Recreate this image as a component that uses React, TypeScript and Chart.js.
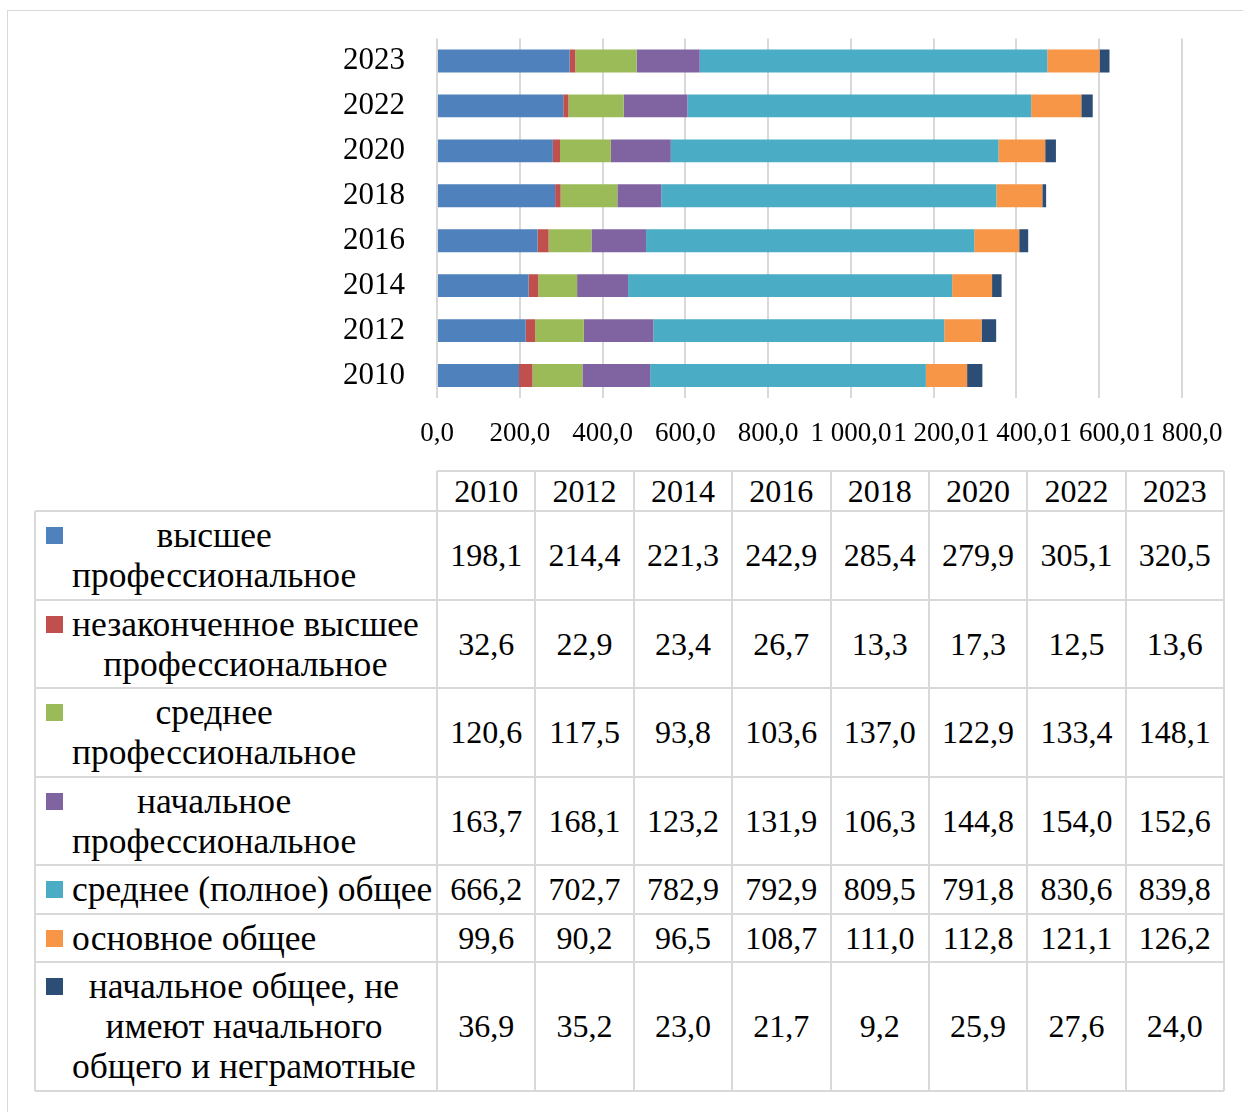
import React, { useEffect, useRef } from 'react';
import { Chart, registerables } from 'chart.js';

Chart.register(...registerables);

const years = ['2010', '2012', '2014', '2016', '2018', '2020', '2022', '2023'];

const higherProf = [198.1, 214.4, 221.3, 242.9, 285.4, 279.9, 305.1, 320.5];
const incompleteHigherProf = [32.6, 22.9, 23.4, 26.7, 13.3, 17.3, 12.5, 13.6];
const secondaryProf = [120.6, 117.5, 93.8, 103.6, 137.0, 122.9, 133.4, 148.1];
const primaryProf = [163.7, 168.1, 123.2, 131.9, 106.3, 144.8, 154.0, 152.6];
const secondaryGeneral = [666.2, 702.7, 782.9, 792.9, 809.5, 791.8, 830.6, 839.8];
const basicGeneral = [99.6, 90.2, 96.5, 108.7, 111.0, 112.8, 121.1, 126.2];
const primaryGeneral = [36.9, 35.2, 23.0, 21.7, 9.2, 25.9, 27.6, 24.0];

const seriesNames = [
  'высшее профессиональное',
  'незаконченное высшее профессиональное',
  'среднее профессиональное',
  'начальное профессиональное',
  'среднее (полное) общее',
  'основное общее',
  'начальное общее, не имеют начального общего и неграмотные',
];

const seriesLines = [
  ['высшее', 'профессиональное'],
  ['незаконченное высшее', 'профессиональное'],
  ['среднее', 'профессиональное'],
  ['начальное', 'профессиональное'],
  ['среднее (полное) общее'],
  ['основное общее'],
  ['начальное общее, не', 'имеют начального', 'общего и неграмотные'],
];

const seriesValues = [
  higherProf,
  incompleteHigherProf,
  secondaryProf,
  primaryProf,
  secondaryGeneral,
  basicGeneral,
  primaryGeneral,
];

const seriesColors = ['#4F81BD', '#C0504D', '#9BBB59', '#8064A2', '#4BACC6', '#F79646', '#2C4D75'];

const xMin = 0;
const xMax = 1800;
const xStep = 200;

const FONT = '"Liberation Serif", "Times New Roman", serif';
const LINE = '#d9d9d9';

function fmt(v: number): string {
  const [intPart, dec] = v.toFixed(1).split('.');
  const withSpaces = intPart.replace(/\B(?=(\d{3})+(?!\d))/g, ' ');
  return withSpaces + ',' + dec;
}

// table geometry
const TABLE_LEFT = 35;
const COL0_RIGHT = 437;
const TABLE_RIGHT = 1224;
const HEADER_TOP = 471;
const HEADER_H = 40;
const LINE_H = 40;
const ROW_PAD = 8.5;

export default function App() {
  const ref = useRef<HTMLCanvasElement>(null);

  useEffect(() => {
    const chart = new Chart(ref.current!, {
      type: 'bar',
      data: {
        labels: years,
        datasets: seriesNames.map((name, i) => ({
          label: name,
          data: seriesValues[i],
          backgroundColor: seriesColors[i],
          borderWidth: 0,
          barPercentage: 0.51,
          categoryPercentage: 1,
        })),
      },
      options: {
        indexAxis: 'y',
        responsive: false,
        animation: false,
        layout: { padding: { top: 38.5, right: 61, left: 343, bottom: 0 } },
        plugins: { legend: { display: false }, tooltip: { enabled: false } },
        scales: {
          x: {
            stacked: true,
            min: xMin,
            max: xMax,
            ticks: {
              stepSize: xStep,
              autoSkip: false,
              maxRotation: 0,
              padding: 20,
              color: '#000',
              font: { family: FONT, size: 27 },
              callback: (v: any) => fmt(Number(v)),
            },
            grid: { color: LINE, lineWidth: 2, drawTicks: false },
            border: { display: false },
            afterFit: (s: any) => {
              s.height = 62;
            },
          },
          y: {
            stacked: true,
            reverse: true,
            ticks: {
              padding: 0,
              crossAlign: 'far',
              color: '#000',
              font: { family: FONT, size: 31 },
            },
            grid: { display: false, drawTicks: false },
            border: { display: false },
            afterFit: (s: any) => {
              s.width = 94;
            },
          },
        },
      },
    });
    return () => chart.destroy();
  }, []);

  const colW = (TABLE_RIGHT - COL0_RIGHT) / years.length;
  const rowTops: number[] = [];
  const rowHeights: number[] = [];
  let y = HEADER_TOP + HEADER_H;
  seriesLines.forEach((lines) => {
    const h = lines.length * LINE_H + ROW_PAD;
    rowTops.push(y);
    rowHeights.push(h);
    y += h;
  });
  const tableBottom = y;

  const hLines: React.ReactNode[] = [];
  hLines.push(
    <div key="ht" style={{ position: 'absolute', left: COL0_RIGHT, top: HEADER_TOP - 1, width: TABLE_RIGHT - COL0_RIGHT, height: 2, background: LINE }} />
  );
  [...rowTops, tableBottom].forEach((t, i) => {
    hLines.push(
      <div key={'h' + i} style={{ position: 'absolute', left: TABLE_LEFT, top: t - 1, width: TABLE_RIGHT - TABLE_LEFT, height: 2, background: LINE }} />
    );
  });
  const vLines: React.ReactNode[] = [];
  vLines.push(
    <div key="v0" style={{ position: 'absolute', left: TABLE_LEFT - 1, top: HEADER_TOP + HEADER_H, width: 2, height: tableBottom - HEADER_TOP - HEADER_H, background: LINE }} />
  );
  for (let c = 0; c <= years.length; c++) {
    vLines.push(
      <div key={'v' + (c + 1)} style={{ position: 'absolute', left: COL0_RIGHT + c * colW - 1, top: HEADER_TOP, width: 2, height: tableBottom - HEADER_TOP, background: LINE }} />
    );
  }

  const textStyle: React.CSSProperties = {
    position: 'absolute',
    fontFamily: FONT,
    fontSize: 32,
    color: '#000',
    lineHeight: LINE_H + 'px',
    whiteSpace: 'nowrap',
  };

  return (
    <div style={{ position: 'absolute', left: 0, top: 0, width: 1243, height: 1112, overflow: 'hidden', background: '#fff' }}>
      <div style={{ position: 'absolute', left: 7, top: 10, width: 1300, height: 1200, border: '1px solid ' + LINE }} />
      <canvas ref={ref} width={1243} height={460} style={{ position: 'absolute', left: 0, top: 0 }} />
      {hLines}
      {vLines}
      {years.map((yr, c) => (
        <div key={'hd' + yr} style={{ ...textStyle, left: COL0_RIGHT + c * colW, top: HEADER_TOP, width: colW, height: HEADER_H, textAlign: 'center' }}>
          {yr}
        </div>
      ))}
      {seriesLines.map((lines, r) => (
        <React.Fragment key={'row' + r}>
          <div style={{ position: 'absolute', left: 46, top: rowTops[r] + ROW_PAD / 2 + 12, width: 17, height: 17, background: seriesColors[r] }} />
          <div style={{ ...textStyle, fontSize: 35.5, left: 72, top: rowTops[r] + ROW_PAD / 2, textAlign: 'center' }}>
            {lines.map((l, k) => (
              <div key={k}>{l}</div>
            ))}
          </div>
          {seriesValues[r].map((v, c) => (
            <div
              key={'val' + r + '-' + c}
              style={{
                ...textStyle,
                left: COL0_RIGHT + c * colW,
                top: rowTops[r],
                width: colW,
                height: rowHeights[r],
                lineHeight: rowHeights[r] + 'px',
                textAlign: 'center',
              }}
            >
              {fmt(v)}
            </div>
          ))}
        </React.Fragment>
      ))}
    </div>
  );
}
